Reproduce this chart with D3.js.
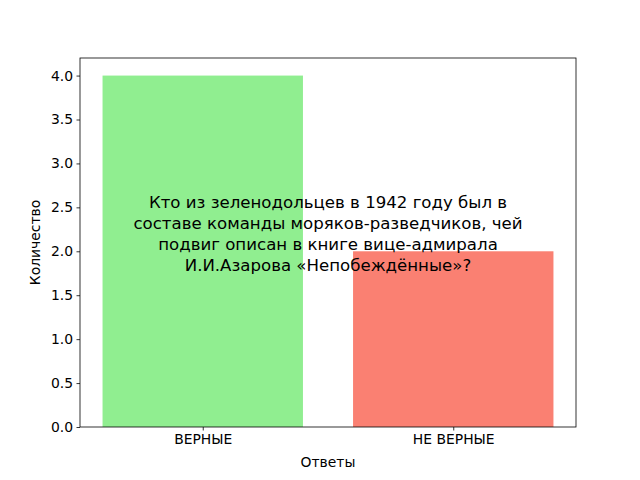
<!DOCTYPE html>
<html><head><meta charset="utf-8">
<script src="https://cdn.jsdelivr.net/npm/d3@7"></script>
<style>body{margin:0;background:#fff}svg{display:block}text{font-family:"DejaVu Sans",sans-serif}</style>
</head><body>
<svg id="c" width="640" height="480"></svg>
<script>
const categories = ["ВЕРНЫЕ", "НЕ ВЕРНЫЕ"];
const values = [4, 2];
const barColors = ["#90ee90", "#fa8072"];
const yTicks = [0, 0.5, 1.0, 1.5, 2.0, 2.5, 3.0, 3.5, 4.0];
const titleLines = ["Кто из зеленодольцев в 1942 году был в",
  "составе команды моряков-разведчиков, чей",
  "подвиг описан в книге вице-адмирала",
  "И.И.Азарова «Непобеждённые»?"];

const svg = d3.select("#c");
const L = 80, R = 576, T = 58, B = 427;
const x = d3.scaleLinear().domain([-0.49, 1.49]).range([L, R]);
const y = d3.scaleLinear().domain([0, 4.2]).range([B, T]);

svg.selectAll("rect.bar").data(values).enter().append("rect")
  .attr("x", (d, i) => x(i - 0.4)).attr("width", (d, i) => x(i + 0.4) - x(i - 0.4))
  .attr("y", d => y(d)).attr("height", d => y(0) - y(d))
  .attr("fill", (d, i) => barColors[i]);

const fs = "13.9px";
const yAxis = d3.axisLeft(y).tickValues(yTicks).tickFormat(d3.format(".1f")).tickSize(3.5).tickPadding(3.5);
const gy = svg.append("g").attr("transform", `translate(${L},0)`).call(yAxis);
const xAxis = d3.axisBottom(x).tickValues([0, 1]).tickFormat(i => categories[i]).tickSize(3.5).tickPadding(3.5);
const gx = svg.append("g").attr("transform", `translate(0,${B})`).call(xAxis);
[gx, gy].forEach(g => {
  g.select(".domain").remove();
  g.selectAll("text").attr("font-size", fs).attr("font-family", "DejaVu Sans").attr("fill", "#000");
  g.selectAll("line").attr("stroke", "#000").attr("stroke-width", 0.8);
});

svg.append("rect").attr("x", L).attr("y", T).attr("width", R - L).attr("height", B - T)
  .attr("fill", "none").attr("stroke", "#000").attr("stroke-width", 0.8);

svg.append("text").attr("x", (L + R) / 2).attr("y", 467).attr("text-anchor", "middle")
  .attr("font-size", fs).text("Ответы");
svg.append("text").attr("transform", `translate(40,${(T + B) / 2}) rotate(-90)`).attr("text-anchor", "middle")
  .attr("font-size", fs).text("Количество");

svg.append("g").selectAll("text").data(titleLines).enter().append("text")
  .attr("x", (L + R) / 2).attr("y", (d, i) => 208 + i * 21).attr("text-anchor", "middle")
  .attr("font-size", "16.6px").attr("fill", "#000").text(d => d);
</script>
</body></html>
